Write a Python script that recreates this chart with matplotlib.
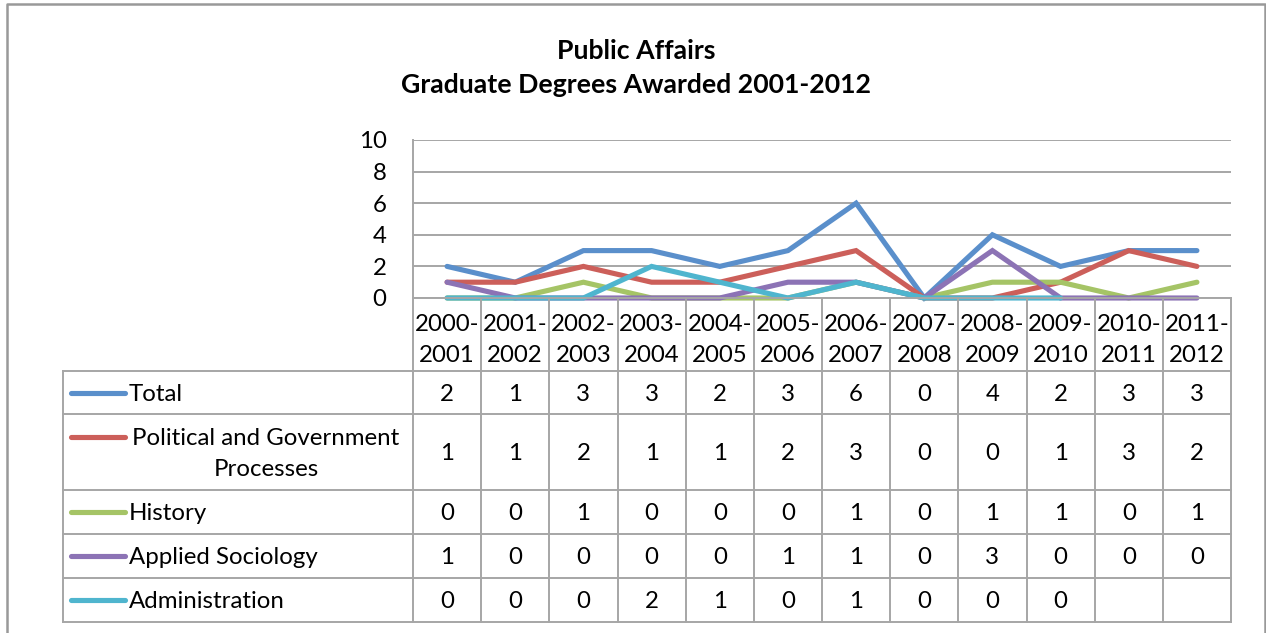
import matplotlib
matplotlib.use("Agg")
import matplotlib.pyplot as plt
from matplotlib.lines import Line2D
from matplotlib.transforms import blended_transform_factory
import numpy as np

categories = ["2000-\n2001", "2001-\n2002", "2002-\n2003", "2003-\n2004", "2004-\n2005", "2005-\n2006",
              "2006-\n2007", "2007-\n2008", "2008-\n2009", "2009-\n2010", "2010-\n2011", "2011-\n2012"]
series_names = ["Total", "Political and Government\nProcesses", "History", "Applied Sociology", "Administration"]
total = [2, 1, 3, 3, 2, 3, 6, 0, 4, 2, 3, 3]
political = [1, 1, 2, 1, 1, 2, 3, 0, 0, 1, 3, 2]
history = [0, 0, 1, 0, 0, 0, 1, 0, 1, 1, 0, 1]
applied = [1, 0, 0, 0, 0, 1, 1, 0, 3, 0, 0, 0]
administration = [0, 0, 0, 2, 1, 0, 1, 0, 0, 0, None, None]
yticks = [0, 2, 4, 6, 8, 10]
title_lines = ["Public Affairs", "Graduate Degrees Awarded 2001-2012"]

series = [total, political, history, applied, administration]
colors = ["#5A8FCB", "#CC5F5A", "#A5C466", "#8C73B5", "#4FB5CE"]

FONT = "Lato"
FS = 17.3
W, H = 1266, 633
fig = plt.figure(figsize=(W / 100, H / 100), dpi=100)

def fx(px):
    return px / W

def fy(py):
    return 1 - py / H

ax_l, ax_r, ax_t, ax_b = 413, 1231, 140, 298
ax = fig.add_axes([fx(ax_l), fy(ax_b), fx(ax_r) - fx(ax_l), fy(ax_t) - fy(ax_b)])
n = len(categories)
x = np.arange(n)
for vals, c in zip(series, colors):
    v = np.array([np.nan if a is None else a for a in vals], dtype=float)
    ax.plot(x, v, color=c, lw=3.7, solid_capstyle="round", solid_joinstyle="miter", clip_on=False)
ax.set_xlim(-0.5, n - 0.5)
ax.set_ylim(0, 10)
ax.set_yticks(yticks)
ax.set_yticklabels([str(t) for t in yticks], fontsize=FS, family=FONT)
ax.set_xticks([])
gridc = "#A6A6A6"
ax.grid(axis="y", color=gridc, lw=1.4)
ax.set_axisbelow(True)
for s in ["top", "right"]:
    ax.spines[s].set_visible(False)
for s in ["left", "bottom"]:
    ax.spines[s].set_color(gridc)
    ax.spines[s].set_linewidth(1.4)
ax.tick_params(axis="y", length=0, pad=19)

# Title
fig.text(fx(636), fy(51), title_lines[0], ha="center", va="center", fontsize=19.2,
         fontweight="bold", family=FONT)
fig.text(fx(636), fy(85), title_lines[1], ha="center", va="center", fontsize=19.2,
         fontweight="bold", family=FONT)

# Table geometry
tr = blended_transform_factory(ax.transData, fig.transFigure)
ftr = fig.transFigure
lk = dict(color=gridc, lw=1.4, clip_on=False)
head_top = ax_b
row_edges = [371, 414, 490, 534, 578, 622]
tab_left = 63
LS = 1.62
DY = 2

for i in range(n + 1):
    xb = i - 0.5
    fig.add_artist(Line2D([xb, xb], [fy(head_top), fy(row_edges[-1])], transform=tr, **lk))
for yy in row_edges:
    fig.add_artist(Line2D([fx(tab_left), fx(ax_r)], [fy(yy), fy(yy)], transform=ftr, **lk))
fig.add_artist(Line2D([fx(tab_left), fx(tab_left)], [fy(row_edges[0]), fy(row_edges[-1])],
                      transform=ftr, **lk))

# category labels
for i, cat in enumerate(categories):
    fig.text(i, fy(338 + DY), cat, transform=tr, ha="center", va="center", fontsize=FS,
             family=FONT, linespacing=LS)

# rows
for r, (name, vals, c) in enumerate(zip(series_names, series, colors)):
    y0, y1 = row_edges[r], row_edges[r + 1]
    yc = (y0 + y1) / 2
    nlines = name.count("\n") + 1
    if nlines == 1:
        ykey = yc
        fig.text(fx(129), fy(yc + DY), name, ha="left", va="center", fontsize=FS, family=FONT)
    else:
        ykey = yc - 15
        fig.text(fx(266), fy(yc + DY), name, ha="center", va="center", fontsize=FS, family=FONT,
                 multialignment="center", linespacing=LS)
    fig.add_artist(Line2D([fx(71), fx(125)], [fy(ykey), fy(ykey)], transform=ftr, color=c,
                          lw=3.7, solid_capstyle="round"))
    for i, v in enumerate(vals):
        if v is None:
            continue
        fig.text(i, fy(yc + DY), str(v), transform=tr, ha="center", va="center", fontsize=FS,
                 family=FONT)

# outer border
bc = "#999999"
fig.add_artist(Line2D([fx(7), fx(7), fx(1265), fx(1265)], [fy(H + 5), fy(4), fy(4), fy(H + 5)],
                      transform=ftr, color=bc, lw=1.8, clip_on=False))

fig.savefig("out.png", dpi=100)
